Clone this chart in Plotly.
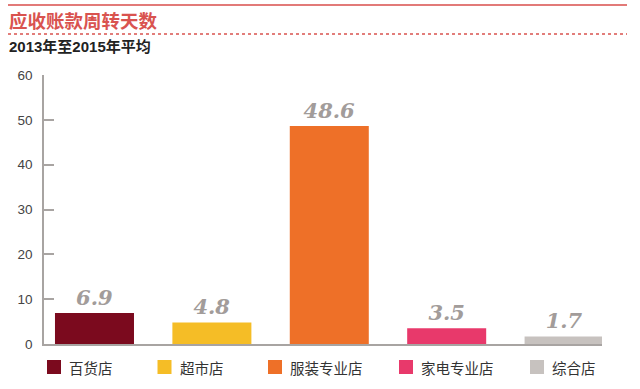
import plotly.graph_objects as go

categories = ["百货店", "超市店", "服装专业店", "家电专业店", "综合店"]
values = [6.9, 4.8, 48.6, 3.5, 1.7]
colors = ["#7B0A1E", "#F5BD26", "#EE7028", "#E8396B", "#C7C2BF"]
y_ticks = [0, 10, 20, 30, 40, 50, 60]

W, H = 640, 389
ML, MR, MT, MB = 44, 38, 75, 45
PW, PH = W - ML - MR, H - MT - MB


def px(p):
    return (p - ML) / PW


def py(p):
    return (H - MB - p) / PH


fig = go.Figure()
fig.add_trace(go.Bar(
    x=list(range(len(categories))), y=values,
    marker=dict(color=colors, line=dict(width=0)),
    width=0.673, text=[f"{v:.1f}" for v in values], textposition="outside",
    textfont=dict(family="DejaVu Serif", size=21, color="#A29C9A", weight="bold", style="italic"),
    cliponaxis=False, showlegend=False, hoverinfo="skip",
))

fig.update_layout(
    width=W, height=H,
    margin=dict(l=ML, r=MR, t=MT, b=MB),
    paper_bgcolor="white", plot_bgcolor="white",
    showlegend=False,
    xaxis=dict(range=[-0.43, 4.323], showticklabels=False, showgrid=False, zeroline=False,
               showline=True, linecolor="#A8A4A2", linewidth=1.5, ticks=""),
    yaxis=dict(range=[0, 60], tickvals=y_ticks, showgrid=False, zeroline=False,
               showline=True, linecolor="#A8A4A2", linewidth=1.5,
               ticks="inside", ticklen=10, tickcolor="#A8A4A2", tickwidth=1.5,
               ticklabelstandoff=7,
               tickfont=dict(family="Liberation Sans", size=13.5, color="#444")),
    font=dict(family="Noto Sans CJK SC"),
)

# legend drawn manually from the category list
lx = 47
sq = 14
ly = 367
for c, col in zip(categories, colors):
    fig.add_shape(type="rect", xref="paper", yref="paper",
                  x0=px(lx), x1=px(lx + sq), y0=py(ly - sq / 2), y1=py(ly + sq / 2),
                  fillcolor=col, line=dict(width=0))
    fig.add_annotation(text=c, xref="paper", yref="paper", x=px(lx + sq + 6), y=py(ly),
                       xanchor="left", yanchor="middle", showarrow=False,
                       font=dict(family="Noto Sans CJK SC", size=14.5, color="#333"))
    lx += 79.75 + 10.25 * len(c)

# header lines and titles
fig.add_shape(type="line", xref="paper", yref="paper", x0=px(8), x1=px(627),
              y0=py(5), y1=py(5), line=dict(color="#E27A78", width=2))
fig.add_shape(type="line", xref="paper", yref="paper", x0=px(8), x1=px(627),
              y0=py(34), y1=py(34), line=dict(color="#D9534F", width=1.5, dash="dot"))
fig.add_annotation(text="<b>应收账款周转天数</b>", xref="paper", yref="paper",
                   x=px(7), y=py(20), xanchor="left", yanchor="middle", showarrow=False,
                   font=dict(family="Noto Sans CJK SC", size=18.5, color="#D9534F"))
fig.add_annotation(text="<b>2013年至2015年平均</b>", xref="paper", yref="paper",
                   x=px(7), y=py(46), xanchor="left", yanchor="middle", showarrow=False,
                   font=dict(family="Liberation Sans, Noto Sans CJK SC", size=15, color="#222"))

fig.write_html("out.html", config={"displayModeBar": False},
               post_script="document.body.style.margin='0';")
